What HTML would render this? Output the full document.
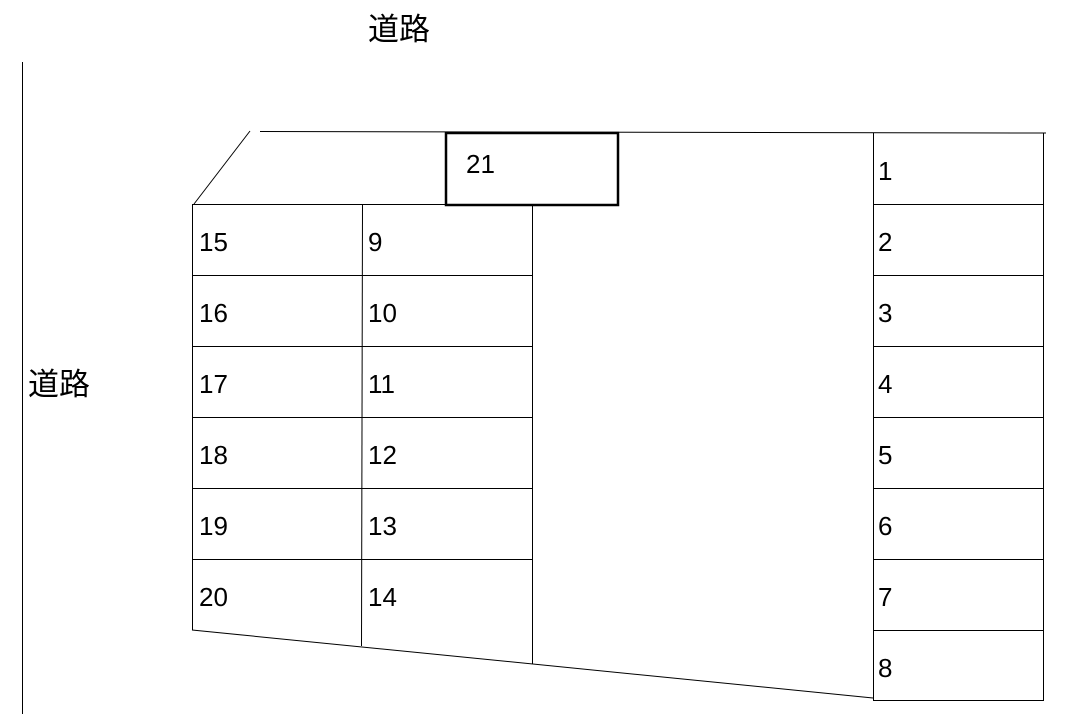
<!DOCTYPE html>
<html><head><meta charset="utf-8"><style>
html,body{margin:0;padding:0;background:#fff;width:1091px;height:714px;overflow:hidden}
svg{display:block}
text{font-family:"Liberation Sans","Noto Sans CJK JP",sans-serif;font-size:26px;fill:#000}
</style></head><body>
<svg width="1091" height="714" viewBox="0 0 1091 714" xmlns="http://www.w3.org/2000/svg">
<g stroke="#000" stroke-width="1" fill="none">
<line x1="22.5" y1="62" x2="22.5" y2="714"/>
<line x1="260" y1="131.5" x2="1046" y2="133"/>
<line x1="250" y1="131" x2="194" y2="204"/>
<line x1="192.5" y1="204" x2="192.5" y2="630"/>
<line x1="362.5" y1="204" x2="361.5" y2="646"/>
<line x1="532.5" y1="204" x2="532.5" y2="664"/>
<line x1="192" y1="204.5" x2="532" y2="204.5"/>
<line x1="192" y1="275.5" x2="532" y2="275.5"/>
<line x1="192" y1="346.5" x2="532" y2="346.5"/>
<line x1="192" y1="417.5" x2="532" y2="417.5"/>
<line x1="192" y1="488.5" x2="532" y2="488.5"/>
<line x1="192" y1="559.5" x2="532" y2="559.5"/>
<line x1="192" y1="630" x2="873" y2="698"/>
<line x1="873.5" y1="133" x2="873.5" y2="701"/>
<line x1="1043.5" y1="133" x2="1043.5" y2="701"/>
<line x1="873" y1="204.5" x2="1043" y2="204.5"/>
<line x1="873" y1="275.5" x2="1043" y2="275.5"/>
<line x1="873" y1="346.5" x2="1043" y2="346.5"/>
<line x1="873" y1="417.5" x2="1043" y2="417.5"/>
<line x1="873" y1="488.5" x2="1043" y2="488.5"/>
<line x1="873" y1="559.5" x2="1043" y2="559.5"/>
<line x1="873" y1="630.5" x2="1043" y2="630.5"/>
<line x1="873" y1="700.5" x2="1043" y2="700.5"/>
</g>
<rect x="446" y="133" width="172" height="72" fill="none" stroke="#000" stroke-width="2.5"/>
<text x="466" y="173">21</text>
<text x="368" y="40" style="font-size:31px">道路</text>
<text x="28" y="395" style="font-size:31px">道路</text>
<text x="199" y="251">15</text><text x="368" y="251">9</text>
<text x="199" y="322">16</text><text x="368" y="322">10</text>
<text x="199" y="393">17</text><text x="368" y="393">11</text>
<text x="199" y="464">18</text><text x="368" y="464">12</text>
<text x="199" y="535">19</text><text x="368" y="535">13</text>
<text x="199" y="606">20</text><text x="368" y="606">14</text>
<text x="878" y="180">1</text>
<text x="878" y="251">2</text>
<text x="878" y="322">3</text>
<text x="878" y="393">4</text>
<text x="878" y="464">5</text>
<text x="878" y="535">6</text>
<text x="878" y="606">7</text>
<text x="878" y="677">8</text>
</svg>
</body></html>
